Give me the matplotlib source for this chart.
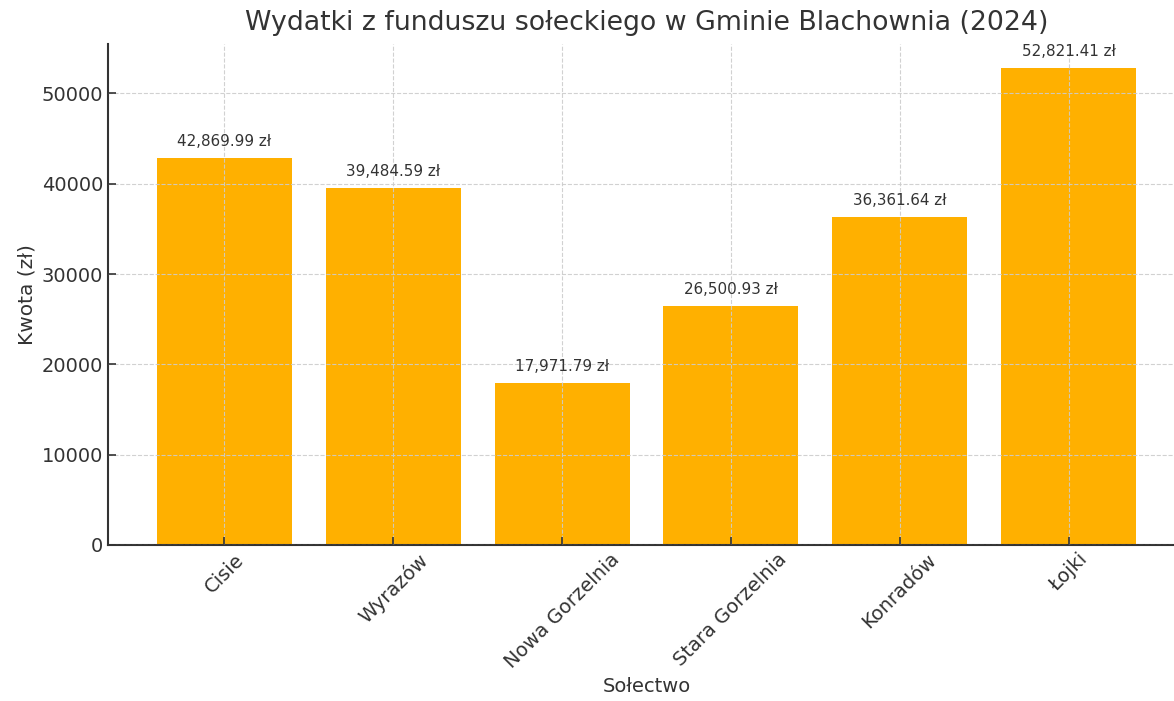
import numpy as np
import matplotlib.pyplot as plt

# dane: fundusz sołecki 2024
solectwa = ["Cisie", "Wyrazów", "Nowa Gorzelnia", "Stara Gorzelnia", "Konradów", "Łojki"]
kwoty = [42869.99, 39484.59, 17971.79, 26500.93, 36361.64, 52821.41]

plt.rcParams['font.family'] = ['DejaVu Sans']
txt = '#333333'

fig = plt.figure(figsize=(11.74, 7.01), dpi=100)
ax = fig.add_axes([108/1174, 1 - 545/701, (1185 - 108)/1174, (545 - 44)/701])

x = np.arange(len(solectwa))
bars = ax.bar(x, kwoty, width=0.8, color='#FFB000')

for b, v in zip(bars, kwoty):
    ax.text(b.get_x() + b.get_width()/2, v + 1000, f"{v:,.2f} zł",
            ha='center', va='bottom', fontsize=10.9, color=txt)

ax.set_xticks(x)
ax.set_xticklabels(solectwa, rotation=45, fontsize=14, color=txt)
ax.tick_params(axis='y', labelsize=14, labelcolor=txt)
ax.tick_params(direction='in', length=6, width=1.2, color=txt)
ax.set_ylim(0, 52821.41 * 1.05)
ax.set_xlim(-0.69, len(solectwa) - 1 + 0.69)

ax.set_title("Wydatki z funduszu sołeckiego w Gminie Blachownia (2024)",
             fontsize=19.3, color=txt, pad=10)
ax.set_xlabel("Sołectwo", fontsize=14, color=txt)
ax.set_ylabel("Kwota (zł)", fontsize=14.5, color=txt)

ax.grid(True, linestyle='--', color='#cccccc', linewidth=0.8, alpha=0.9)
ax.set_axisbelow(False)
ax.spines['top'].set_visible(False)
ax.spines['right'].set_visible(False)
for s in ['left', 'bottom']:
    ax.spines[s].set_color(txt)
    ax.spines[s].set_linewidth(1.5)

fig.savefig("out.png", dpi=100)
